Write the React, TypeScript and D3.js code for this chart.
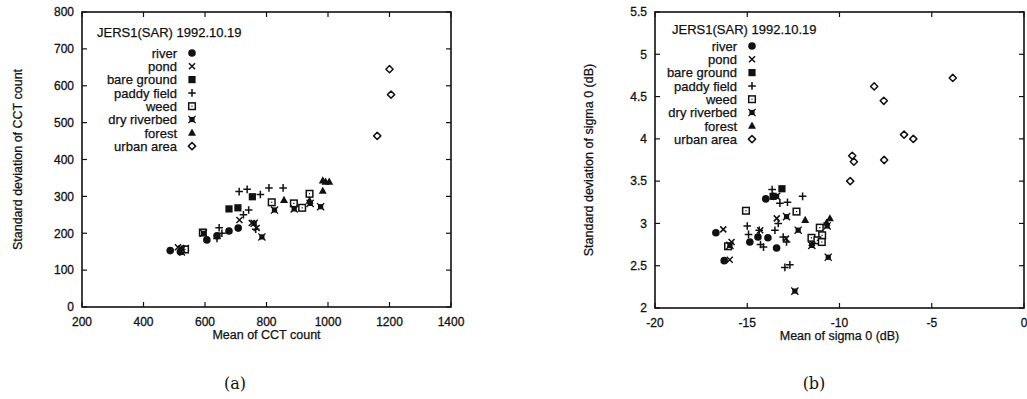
import React from 'react'
import * as d3 from 'd3'

// ---- data ----
const classes = ['river', 'pond', 'bare ground', 'paddy field', 'weed', 'dry riverbed', 'forest', 'urban area']
const titleText = 'JERS1(SAR) 1992.10.19'

// (a) mean / std of CCT count
const cctRiver = [[487, 153], [520, 150], [606, 182], [639, 193], [678, 206], [708, 214]]
const cctPond = [[512, 162], [538, 160], [525, 148], [712, 236], [752, 228], [768, 214]]
const cctBare = [[678, 266], [707, 269], [754, 299]]
const cctPaddy = [[711, 313], [737, 319], [780, 305], [808, 323], [854, 323], [742, 263], [725, 250], [646, 215], [655, 200], [639, 186], [765, 211], [530, 158]]
const cctWeed = [[593, 202], [817, 284], [889, 281], [916, 269], [940, 307], [535, 156]]
const cctDry = [[785, 190], [826, 263], [890, 266], [942, 281], [976, 272], [760, 227], [525, 157], [595, 200]]
const cctForest = [[983, 343], [1004, 340], [992, 340], [983, 315], [857, 290], [940, 288]]
const cctUrban = [[1200, 645], [1205, 576], [1160, 464]]

// (b) mean / std of sigma 0 (dB)
const sigRiver = [[-16.7, 2.89], [-16.25, 2.56], [-14.86, 2.78], [-14.42, 2.84], [-13.88, 2.83], [-13.41, 2.71], [-14.0, 3.29]]
const sigPond = [[-16.3, 2.93], [-15.85, 2.78], [-15.95, 2.57], [-13.4, 3.06], [-12.9, 2.82], [-14.3, 2.92], [-11.5, 2.77]]
const sigBare = [[-13.12, 3.41], [-13.6, 3.32], [-11.15, 2.8]]
const sigPaddy = [[-13.65, 3.4], [-13.23, 3.24], [-12.82, 3.25], [-12.0, 3.32], [-15.0, 2.97], [-14.93, 2.87], [-14.35, 2.92], [-14.28, 2.75], [-14.12, 2.72], [-13.5, 2.92], [-13.32, 3.0], [-13.05, 2.84], [-12.87, 2.78], [-12.96, 2.48], [-12.69, 2.51]]
const sigWeed = [[-15.07, 3.15], [-16.04, 2.73], [-12.33, 3.14], [-11.52, 2.83], [-11.07, 2.95], [-10.94, 2.86], [-11.2, 2.8], [-10.96, 2.78]]
const sigDry = [[-12.42, 2.2], [-10.61, 2.6], [-12.87, 3.08], [-12.24, 2.92], [-11.5, 2.74], [-10.67, 2.97], [-15.94, 2.74], [-13.41, 3.32]]
const sigForest = [[-11.86, 3.04], [-10.52, 3.06], [-10.7, 3.01]]
const sigUrban = [[-8.12, 4.62], [-7.6, 4.45], [-3.86, 4.72], [-6.5, 4.05], [-6.0, 4.0], [-9.31, 3.8], [-9.22, 3.73], [-7.58, 3.75], [-9.42, 3.5]]

const cctXTicks = [200, 400, 600, 800, 1000, 1200, 1400]
const cctYTicks = [0, 100, 200, 300, 400, 500, 600, 700, 800]
const sigXTicks = [-20, -15, -10, -5, 0]
const sigYTicks = [2, 2.5, 3, 3.5, 4, 4.5, 5, 5.5]

const FONT = '"Liberation Sans", Arial, Helvetica, sans-serif'

function Marker({ kind, x, y }: { kind: number; x: number; y: number }) {
  const k = '#111'
  switch (kind) {
    case 0:
      return <circle cx={x} cy={y} r={3.8} fill={k} />
    case 1:
      return <path d={`M${x - 3},${y - 3}L${x + 3},${y + 3}M${x - 3},${y + 3}L${x + 3},${y - 3}`} stroke={k} strokeWidth={1.5} />
    case 2:
      return <rect x={x - 3.6} y={y - 3.6} width={7.2} height={7.2} fill={k} />
    case 3:
      return <path d={`M${x - 3.8},${y}L${x + 3.8},${y}M${x},${y - 3.8}L${x},${y + 3.8}`} stroke={k} strokeWidth={1.5} />
    case 4:
      return (
        <g>
          <rect x={x - 3.3} y={y - 3.3} width={6.6} height={6.6} fill="#fff" stroke={k} strokeWidth={1.5} />
          <rect x={x - 0.6} y={y - 0.6} width={1.2} height={1.2} fill={k} />
        </g>
      )
    case 5:
      return (
        <g>
          <rect x={x - 2.6} y={y - 2.6} width={5.2} height={5.2} fill={k} />
          <path d={`M${x - 3.6},${y - 3.6}L${x + 3.6},${y + 3.6}M${x - 3.6},${y + 3.6}L${x + 3.6},${y - 3.6}`} stroke={k} strokeWidth={1.3} />
        </g>
      )
    case 6:
      return <path d={`M${x},${y - 4.2}L${x + 4},${y + 3}L${x - 4},${y + 3}Z`} fill={k} />
    default:
      return <path d={`M${x},${y - 3.6}L${x + 3.6},${y}L${x},${y + 3.6}L${x - 3.6},${y}Z`} fill="#fff" stroke={k} strokeWidth={1.5} strokeLinejoin="round" />
  }
}

type Pt = number[]

interface PanelProps {
  series: Pt[][]
  xDomain: [number, number]
  yDomain: [number, number]
  xTicks: number[]
  yTicks: number[]
  left: number
  right: number
  top: number
  bottom: number
  xTitle: string
  yTitle: string
  yTitleX: number
  legend: { titleX: number; titleY: number; labelX: number; symX: number; rowY: number; step: number }
  caption: string
  captionX: number
}

function Panel(p: PanelProps) {
  const x = d3.scaleLinear().domain(p.xDomain).range([p.left, p.right])
  const y = d3.scaleLinear().domain(p.yDomain).range([p.bottom, p.top])
  const tk = 5
  const fmt = (v: number) => String(v)
  return (
    <g fontFamily={FONT} fill="#111">
      {/* frame */}
      <rect x={p.left} y={p.top} width={p.right - p.left} height={p.bottom - p.top} fill="none" stroke="#111" strokeWidth={1.6} />
      {/* ticks, mirrored on all sides */}
      {p.xTicks.map(t => (
        <g key={'x' + t}>
          <line x1={x(t)} x2={x(t)} y1={p.bottom} y2={p.bottom - tk} stroke="#111" strokeWidth={1.2} />
          <line x1={x(t)} x2={x(t)} y1={p.top} y2={p.top + tk} stroke="#111" strokeWidth={1.2} />
          <text x={x(t)} y={p.bottom + 18.5} textAnchor="middle" fontSize={12} stroke="#111" strokeWidth={0.3}>{fmt(t)}</text>
        </g>
      ))}
      {p.yTicks.map(t => (
        <g key={'y' + t}>
          <line x1={p.left} x2={p.left + tk} y1={y(t)} y2={y(t)} stroke="#111" strokeWidth={1.2} />
          <line x1={p.right} x2={p.right - tk} y1={y(t)} y2={y(t)} stroke="#111" strokeWidth={1.2} />
          <text x={p.left - 8} y={y(t) + 4.3} textAnchor="end" fontSize={12} stroke="#111" strokeWidth={0.3}>{fmt(t)}</text>
        </g>
      ))}
      <text x={(p.left + p.right) / 2} y={p.bottom + 32} textAnchor="middle" fontSize={12.5} stroke="#111" strokeWidth={0.25}>{p.xTitle}</text>
      <text transform={`translate(${p.yTitleX},${(p.top + p.bottom) / 2}) rotate(-90)`} textAnchor="middle" fontSize={12.5} stroke="#111" strokeWidth={0.25}>{p.yTitle}</text>
      {/* legend */}
      <g stroke="#111" strokeWidth={0.25}>
        <text x={p.legend.titleX} y={p.legend.titleY + 4.7} fontSize={13}>{titleText}</text>
        {classes.map((c, i) => (
          <text key={c} x={p.legend.labelX} y={p.legend.rowY + i * p.legend.step + 4.7} textAnchor="end" fontSize={13}>{c}</text>
        ))}
      </g>
      {classes.map((c, i) => (
        <Marker key={c} kind={i} x={p.legend.symX} y={p.legend.rowY + i * p.legend.step} />
      ))}
      {/* points */}
      {p.series.map((s, i) => s.map((d, j) => <Marker key={i + '-' + j} kind={i} x={x(d[0])} y={y(d[1])} />))}
      <text x={p.captionX} y={389} textAnchor="middle" fontFamily='"DejaVu Serif", "Liberation Serif", serif' fontSize={16}>{p.caption}</text>
    </g>
  )
}

export default function App() {
  return (
    <svg width={1027} height={399} style={{ position: 'absolute', left: 0, top: 0, background: '#fff' }}>
      <rect width={1027} height={399} fill="#fff" />
      <Panel
        series={[cctRiver, cctPond, cctBare, cctPaddy, cctWeed, cctDry, cctForest, cctUrban]}
        xDomain={[200, 1400]} yDomain={[0, 800]} xTicks={cctXTicks} yTicks={cctYTicks}
        left={82} right={451} top={12} bottom={307}
        xTitle="Mean of CCT count" yTitle="Standard deviation of CCT count" yTitleX={21.5}
        legend={{ titleX: 97, titleY: 32, labelX: 177, symX: 192, rowY: 53, step: 13.3 }}
        caption="(a)" captionX={235}
      />
      <Panel
        series={[sigRiver, sigPond, sigBare, sigPaddy, sigWeed, sigDry, sigForest, sigUrban]}
        xDomain={[-20, 0]} yDomain={[2, 5.5]} xTicks={sigXTicks} yTicks={sigYTicks}
        left={655} right={1024} top={12} bottom={308}
        xTitle="Mean of sigma 0 (dB)" yTitle="Standard deviation of sigma 0 (dB)" yTitleX={592.5}
        legend={{ titleX: 672, titleY: 29, labelX: 737, symX: 752, rowY: 46, step: 13.3 }}
        caption="(b)" captionX={814}
      />
    </svg>
  )
}
